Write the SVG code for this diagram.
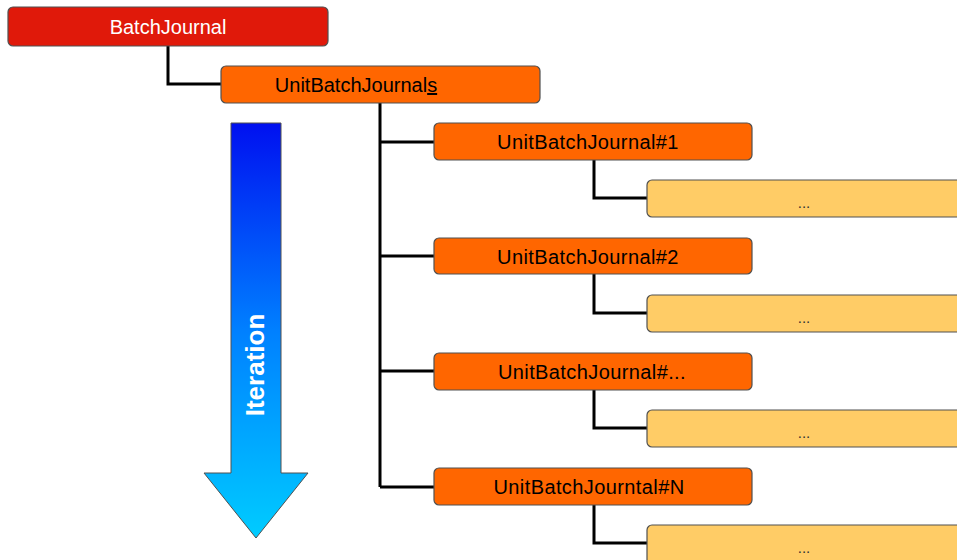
<svg xmlns="http://www.w3.org/2000/svg" width="957" height="560" viewBox="0 0 957 560">
<defs>
<linearGradient id="ig" x1="0" y1="0" x2="0" y2="1">
<stop offset="0" stop-color="#0010f0"/>
<stop offset="0.5" stop-color="#0080ff"/>
<stop offset="1" stop-color="#00ccff"/>
</linearGradient>
<style>
.box{stroke:#505050;stroke-width:1.2}
.red{fill:#e0190a}
.org{fill:#ff6600}
.lt{fill:#ffcc66}
.t{font-family:"Liberation Sans",Arial,sans-serif;font-size:20px;text-anchor:middle}
.k{letter-spacing:0.4px}
.d{font-family:"Liberation Sans",Arial,sans-serif;font-size:15px;text-anchor:middle;fill:#333}
.c{fill:none;stroke:#000;stroke-width:3}
</style>
</defs>
<rect width="957" height="560" fill="#fff"/>
<g id="connectors">
<path class="c" d="M168 46 V84 H221"/>
<path class="c" d="M380 103 V487"/>
<path class="c" d="M380 142 H434 M380 256 H434 M380 371 H434 M380 487 H434"/>
<path class="c" d="M594 160 V198 H647"/>
<path class="c" d="M594 274 V313 H647"/>
<path class="c" d="M594 390 V428 H647"/>
<path class="c" d="M594 505 V543 H647"/>
</g>
<g id="iteration">
<path d="M231 123 H281 V473 H308 L256 538 L204 473 H231 Z" fill="url(#ig)" stroke="#505050" stroke-width="1"/>
<text transform="translate(264 365) rotate(-90)" font-family="'Liberation Sans',Arial,sans-serif" font-size="26" font-weight="bold" fill="#fff" text-anchor="middle">Iteration</text>
</g>
<g id="batchjournal">
<rect class="box red" x="8" y="7" width="320" height="39" rx="5"/>
<text class="t" x="168" y="34" fill="#fff">BatchJournal</text>
</g>
<g id="unitbatchjournals">
<rect class="box org" x="221" y="66" width="319" height="37" rx="5"/>
<text class="t" x="356" y="92" fill="#000">UnitBatchJournal<tspan text-decoration="underline">s</tspan></text>
</g>
<g id="ubj1">
<rect class="box org" x="434" y="123" width="318" height="37" rx="5"/>
<text class="t k" x="588" y="149">UnitBatchJournal#1</text>
</g>
<g id="ubj1child">
<rect class="box lt" x="647" y="180" width="320" height="37" rx="5"/>
<text class="d" x="804" y="208">...</text>
</g>
<g id="ubj2">
<rect class="box org" x="434" y="238" width="318" height="36" rx="5"/>
<text class="t k" x="588" y="263.5">UnitBatchJournal#2</text>
</g>
<g id="ubj2child">
<rect class="box lt" x="647" y="295" width="320" height="37" rx="5"/>
<text class="d" x="804" y="323">...</text>
</g>
<g id="ubj3">
<rect class="box org" x="434" y="353" width="318" height="37" rx="5"/>
<text class="t k" x="592" y="379">UnitBatchJournal#...</text>
</g>
<g id="ubj3child">
<rect class="box lt" x="647" y="410" width="320" height="37" rx="5"/>
<text class="d" x="804" y="438">...</text>
</g>
<g id="ubjN">
<rect class="box org" x="434" y="468" width="318" height="37" rx="5"/>
<text class="t k" x="589" y="494">UnitBatchJourntal#N</text>
</g>
<g id="ubjNchild">
<rect class="box lt" x="647" y="525" width="320" height="40" rx="5"/>
<text class="d" x="804" y="553">...</text>
</g>
</svg>
